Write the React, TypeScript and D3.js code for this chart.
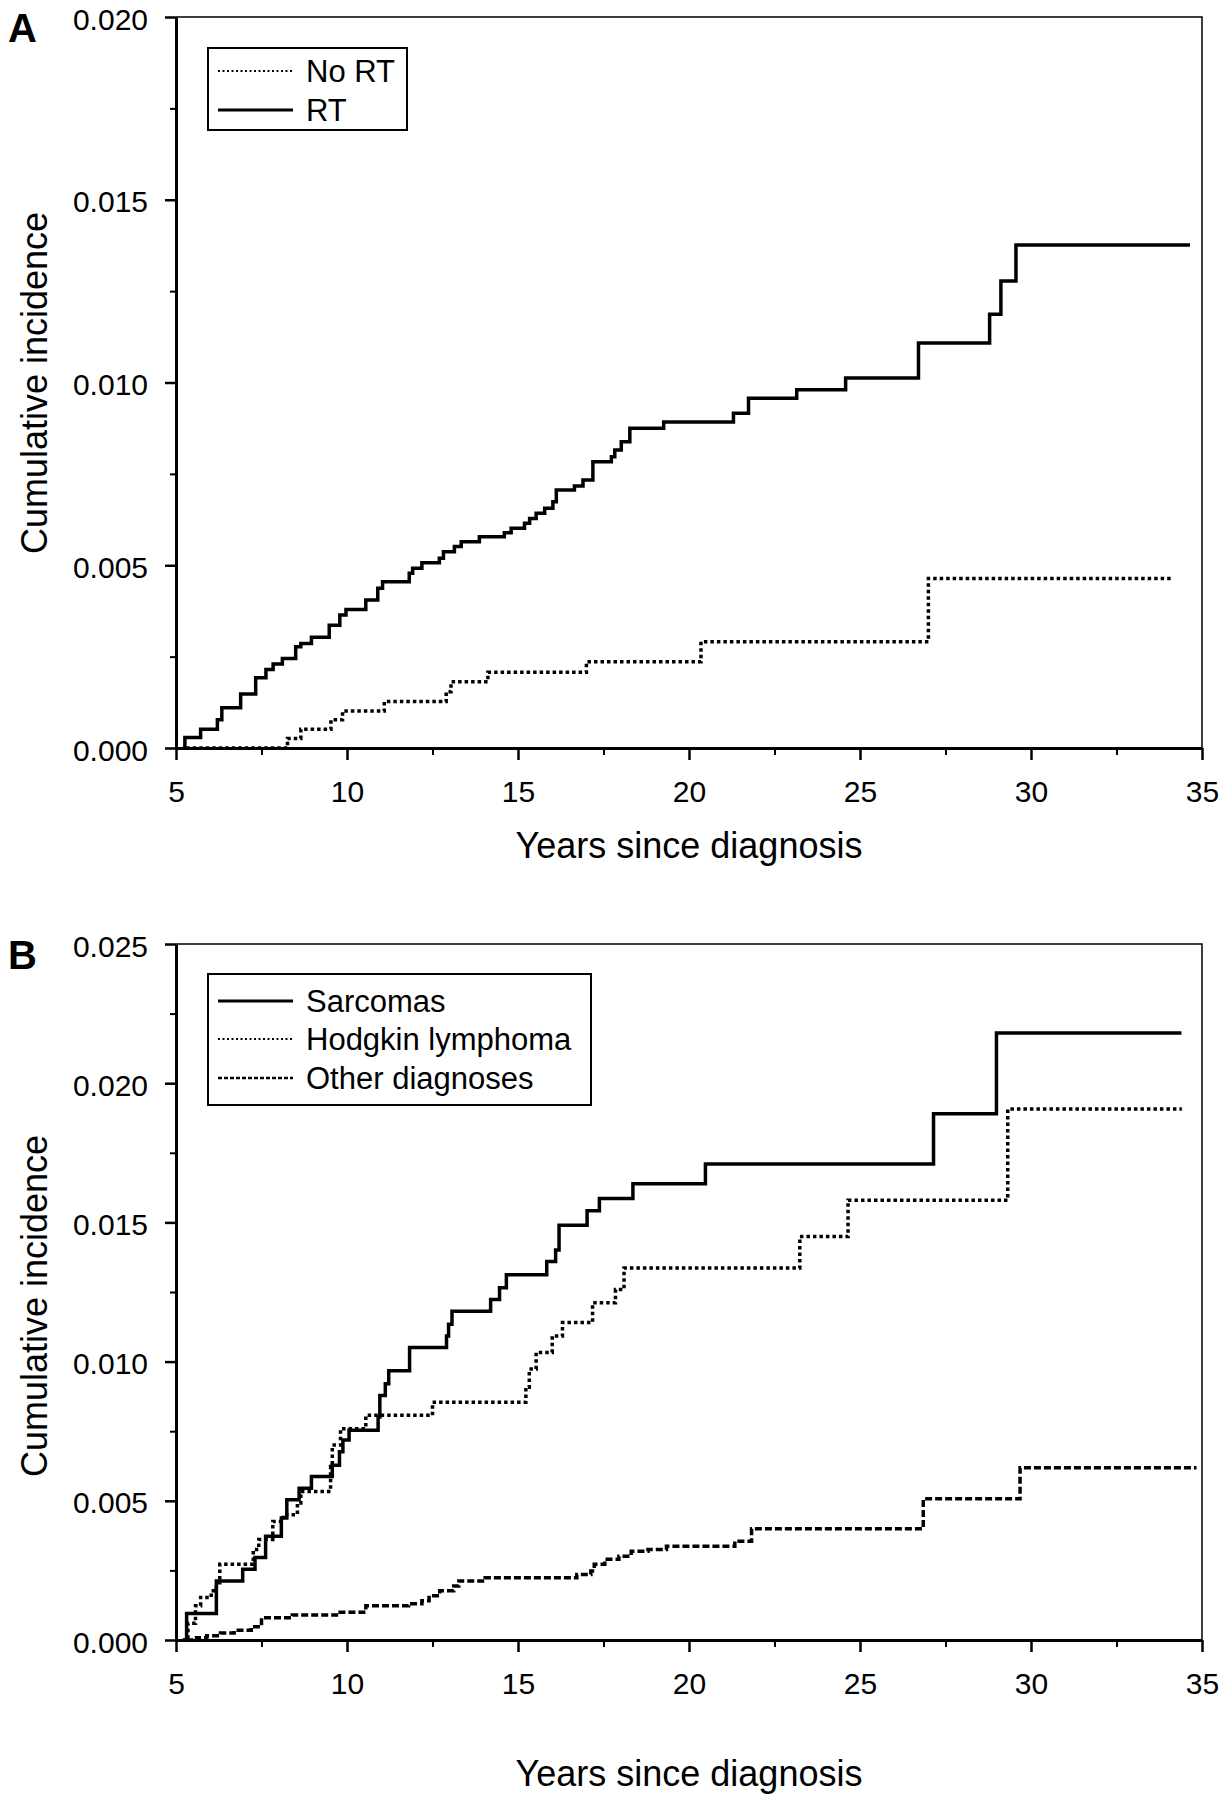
import React, { useRef, useEffect } from 'react';
import * as d3 from 'd3';

// x axis (years since diagnosis)
const xTicks = [5, 10, 15, 20, 25, 30, 35];
const xMinorTicks = [7.5, 12.5, 17.5, 22.5, 27.5, 32.5];

// panel A y axis
const yTicksA = [0, 0.005, 0.01, 0.015, 0.02];
const yMinorA = [0.0025, 0.0075, 0.0125, 0.0175];
// panel B y axis
const yTicksB = [0, 0.005, 0.01, 0.015, 0.02, 0.025];
const yMinorB = [0.0025, 0.0075, 0.0125, 0.0175, 0.0225];

// Panel A: RT
const rtYears = [5.2, 5.26, 5.72, 6.21, 6.34, 6.89, 7.33, 7.63, 7.84, 8.11, 8.5, 8.65, 8.96, 9.48, 9.79, 9.97, 10.55, 10.9, 11.04, 11.82, 11.92, 12.19, 12.7, 12.82, 13.14, 13.34, 13.87, 14.6, 14.8, 15.19, 15.34, 15.53, 15.78, 16.02, 16.12, 16.65, 16.9, 17.19, 17.73, 17.83, 18.02, 18.27, 19.26, 21.3, 21.74, 23.15, 24.58, 26.71, 28.79, 29.12, 29.56, 34.65];
const rtIncidence = [0, 0.00029, 0.00051, 0.00077, 0.0011, 0.00148, 0.00192, 0.00215, 0.0023, 0.00245, 0.00277, 0.00286, 0.00303, 0.00336, 0.00364, 0.00379, 0.00405, 0.00437, 0.00455, 0.00478, 0.00492, 0.00507, 0.00519, 0.00537, 0.00551, 0.00564, 0.00578, 0.00589, 0.00601, 0.00615, 0.00628, 0.00642, 0.00656, 0.00674, 0.00706, 0.00717, 0.00733, 0.00783, 0.00797, 0.00815, 0.00838, 0.00875, 0.00892, 0.00916, 0.00957, 0.0098, 0.01012, 0.01108, 0.01187, 0.01278, 0.01376, 0.01376];

// Panel A: No RT
const noRtYears = [5.3, 8.26, 8.65, 9.53, 9.87, 11.09, 12.9, 13.04, 14.12, 17.0, 20.35, 27.0, 34.14];
const noRtIncidence = [0, 0.00026, 0.00051, 0.00077, 0.00101, 0.00127, 0.00154, 0.00181, 0.00207, 0.00236, 0.00291, 0.00464, 0.00464];

// Panel B: Sarcomas
const sarcYears = [5.2, 5.31, 6.18, 6.95, 7.31, 7.62, 8.08, 8.24, 8.6, 8.96, 9.57, 9.78, 9.88, 10.06, 10.91, 10.96, 11.12, 11.22, 11.83, 12.91, 12.97, 13.07, 14.2, 14.46, 14.66, 15.84, 16.1, 16.2, 17.02, 17.38, 18.36, 20.48, 27.15, 28.99, 34.4];
const sarcIncidence = [0, 0.00095, 0.00212, 0.00254, 0.00296, 0.00373, 0.00438, 0.00504, 0.00545, 0.00587, 0.00628, 0.00676, 0.00718, 0.00753, 0.00801, 0.00878, 0.0092, 0.00967, 0.01051, 0.01092, 0.01134, 0.01181, 0.01223, 0.01265, 0.01312, 0.0136, 0.01401, 0.0149, 0.01542, 0.01586, 0.01639, 0.0171, 0.0189, 0.0218, 0.0218];

// Panel B: Hodgkin lymphoma
const hlYears = [5.2, 5.35, 5.57, 5.72, 6.03, 6.18, 6.28, 7.26, 7.42, 7.83, 8.13, 8.55, 8.65, 9.52, 9.57, 9.81, 10.55, 12.5, 15.23, 15.33, 15.53, 16.0, 16.3, 17.18, 17.85, 18.1, 23.24, 24.65, 29.32, 34.41];
const hlIncidence = [0, 0.0006, 0.00123, 0.00153, 0.00177, 0.00206, 0.00272, 0.00325, 0.00361, 0.00426, 0.0045, 0.00492, 0.00533, 0.00623, 0.007, 0.00759, 0.00807, 0.00854, 0.00908, 0.00973, 0.01033, 0.01092, 0.0114, 0.01211, 0.01259, 0.01336, 0.01449, 0.0158, 0.01907, 0.01907];

// Panel B: Other diagnoses
const otherYears = [5.3, 5.6, 5.9, 6.3, 6.7, 7.2, 7.5, 8.4, 9.8, 10.55, 11.8, 12.19, 12.4, 12.71, 13.12, 13.27, 14.04, 16.72, 17.13, 17.23, 17.54, 17.95, 18.31, 18.8, 19.34, 21.34, 21.83, 26.85, 29.68, 34.84];
const otherIncidence = [0, 0.00008, 0.00015, 0.00025, 0.00035, 0.00048, 0.0008, 0.0009, 0.001, 0.00123, 0.0013, 0.00141, 0.00159, 0.00177, 0.00194, 0.00212, 0.00224, 0.00235, 0.00248, 0.00272, 0.0029, 0.00301, 0.00319, 0.00325, 0.00337, 0.00355, 0.004, 0.00507, 0.00619, 0.00619];

const FONT = '"Liberation Sans", Arial, Helvetica, sans-serif';
const LEFT = 176;
const RIGHT = 1202;

type Series = {
  name: string;
  years: number[];
  values: number[];
  dash: string | null;
  width: number;
  legendDash: string | null;
  legendWidth: number;
};

type PanelCfg = {
  tag: string;
  top: number;
  bottom: number;
  yTicks: number[];
  yMinor: number[];
  series: Series[];
  legendOrder: Series[];
  legendBox: { x: number; y: number; w: number; h: number };
  legendRowY: number[];
  titleY: number;
  yTitleY: number;
};

function drawPanel(svg: d3.Selection<SVGSVGElement, unknown, null, undefined>, cfg: PanelCfg) {
  const x = d3.scaleLinear().domain([5, 35]).range([LEFT, RIGHT]);
  const y = d3
    .scaleLinear()
    .domain([0, cfg.yTicks[cfg.yTicks.length - 1]])
    .range([cfg.bottom, cfg.top]);

  const g = svg.append('g');

  // thin top / right frame
  g.append('path')
    .attr('d', `M${LEFT},${cfg.top}H${RIGHT}V${cfg.bottom}`)
    .attr('fill', 'none')
    .attr('stroke', '#000')
    .attr('stroke-width', 1.5);

  // minor ticks
  g.append('g')
    .attr('transform', `translate(0,${cfg.bottom})`)
    .call(d3.axisBottom(x).tickValues(xMinorTicks).tickSize(7).tickFormat(() => ''))
    .call((s) => s.select('.domain').remove())
    .selectAll('line')
    .attr('stroke-width', 2);
  g.append('g')
    .attr('transform', `translate(${LEFT},0)`)
    .call(d3.axisLeft(y).tickValues(cfg.yMinor).tickSize(6).tickFormat(() => ''))
    .call((s) => s.select('.domain').remove())
    .selectAll('line')
    .attr('stroke-width', 2);

  // major axes
  const xAxis = g
    .append('g')
    .attr('transform', `translate(0,${cfg.bottom})`)
    .call(d3.axisBottom(x).tickValues(xTicks).tickSizeInner(12).tickSizeOuter(0).tickPadding(21).tickFormat(d3.format('d')));
  const yAxis = g
    .append('g')
    .attr('transform', `translate(${LEFT},0)`)
    .call(d3.axisLeft(y).tickValues(cfg.yTicks).tickSizeInner(11).tickSizeOuter(0).tickPadding(17).tickFormat(d3.format('.3f')));

  [xAxis, yAxis].forEach((a) => {
    a.attr('font-size', 30).attr('font-family', FONT);
    a.select('.domain').attr('stroke-width', 3);
    a.selectAll('.tick line').attr('stroke-width', 2.5);
    a.selectAll('text').attr('fill', '#000');
  });
  yAxis.selectAll('text').attr('dy', '0.4em');

  // curves
  const line = d3
    .line<[number, number]>()
    .x((d) => x(d[0]))
    .y((d) => y(d[1]))
    .curve(d3.curveStepAfter);

  cfg.series.forEach((s) => {
    const pts = s.years.map((yr, i) => [yr, s.values[i]] as [number, number]);
    g.append('path')
      .datum(pts)
      .attr('d', line)
      .attr('fill', 'none')
      .attr('stroke', '#000')
      .attr('stroke-width', s.width)
      .attr('stroke-dasharray', s.dash)
      .attr('stroke-linejoin', 'miter');
  });

  // legend
  const lb = cfg.legendBox;
  g.append('rect')
    .attr('x', lb.x)
    .attr('y', lb.y)
    .attr('width', lb.w)
    .attr('height', lb.h)
    .attr('fill', '#fff')
    .attr('stroke', '#000')
    .attr('stroke-width', 2);
  cfg.legendOrder.forEach((s, i) => {
    const ry = cfg.legendRowY[i];
    g.append('line')
      .attr('x1', lb.x + 10)
      .attr('x2', lb.x + 85)
      .attr('y1', ry)
      .attr('y2', ry)
      .attr('stroke', '#000')
      .attr('stroke-width', s.legendWidth)
      .attr('stroke-dasharray', s.legendDash);
    g.append('text')
      .attr('x', lb.x + 98)
      .attr('y', ry + 11)
      .attr('font-family', FONT)
      .attr('font-size', 31)
      .text(s.name);
  });

  // panel tag
  g.append('text')
    .attr('x', 8)
    .attr('y', cfg.top + 25)
    .attr('font-family', FONT)
    .attr('font-size', 40)
    .attr('font-weight', 'bold')
    .text(cfg.tag);

  // axis titles
  g.append('text')
    .attr('x', (LEFT + RIGHT) / 2)
    .attr('y', cfg.titleY)
    .attr('text-anchor', 'middle')
    .attr('font-family', FONT)
    .attr('font-size', 36)
    .text('Years since diagnosis');
  g.append('text')
    .attr('transform', `translate(47,${cfg.yTitleY}) rotate(-90)`)
    .attr('text-anchor', 'middle')
    .attr('font-family', FONT)
    .attr('font-size', 36)
    .text('Cumulative incidence');
}

const App: React.FC = () => {
  const svgRef = useRef<SVGSVGElement | null>(null);

  useEffect(() => {
    if (!svgRef.current) return;
    const svg = d3.select(svgRef.current);
    svg.selectAll('*').remove();

    const noRt: Series = { name: 'No RT', years: noRtYears, values: noRtIncidence, dash: '3.5,3', width: 3.5, legendDash: '2,2.5', legendWidth: 2 };
    const rt: Series = { name: 'RT', years: rtYears, values: rtIncidence, dash: null, width: 3.5, legendDash: null, legendWidth: 3 };
    drawPanel(svg, {
      tag: 'A',
      top: 17,
      bottom: 748,
      yTicks: yTicksA,
      yMinor: yMinorA,
      series: [noRt, rt],
      legendOrder: [noRt, rt],
      legendBox: { x: 208, y: 48, w: 199, h: 82 },
      legendRowY: [71, 110],
      titleY: 858,
      yTitleY: 383,
    });

    const sarc: Series = { name: 'Sarcomas', years: sarcYears, values: sarcIncidence, dash: null, width: 3.5, legendDash: null, legendWidth: 3 };
    const hl: Series = { name: 'Hodgkin lymphoma', years: hlYears, values: hlIncidence, dash: '3.5,3', width: 3.5, legendDash: '2,2.5', legendWidth: 2 };
    const other: Series = { name: 'Other diagnoses', years: otherYears, values: otherIncidence, dash: '7,3', width: 3.5, legendDash: '4,2', legendWidth: 2.5 };
    drawPanel(svg, {
      tag: 'B',
      top: 944,
      bottom: 1640,
      yTicks: yTicksB,
      yMinor: yMinorB,
      series: [other, hl, sarc],
      legendOrder: [sarc, hl, other],
      legendBox: { x: 208, y: 974, w: 383, h: 131 },
      legendRowY: [1001, 1039, 1078],
      titleY: 1786,
      yTitleY: 1306,
    });
  }, []);

  return (
    <div style={{ position: 'absolute', left: 0, top: 0, width: 1230, height: 1800, background: '#fff' }}>
      <svg ref={svgRef} width={1230} height={1800} style={{ display: 'block' }} />
    </div>
  );
};

export default App;
